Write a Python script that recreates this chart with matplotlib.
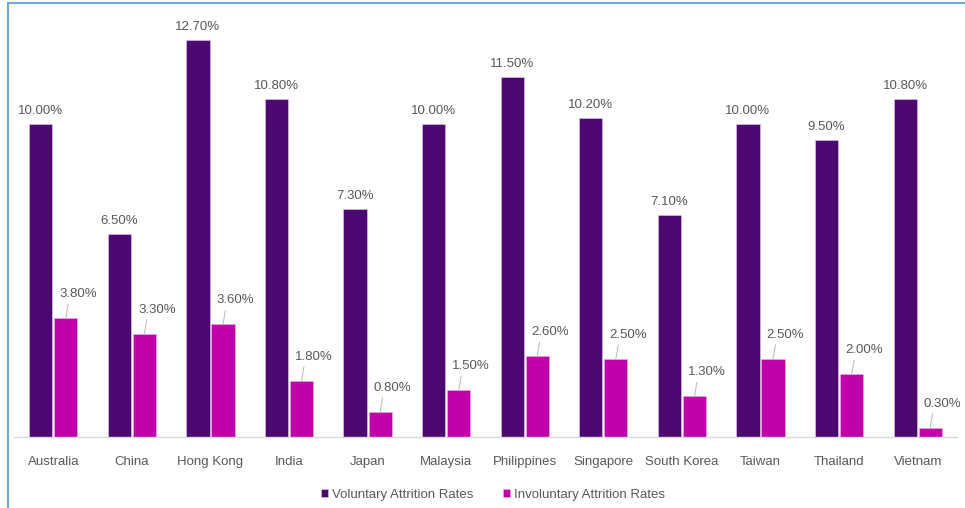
import matplotlib
matplotlib.use("Agg")
import matplotlib.pyplot as plt
from matplotlib.lines import Line2D
import numpy as np

countries = ["Australia", "China", "Hong Kong", "India", "Japan", "Malaysia",
             "Philippines", "Singapore", "South Korea", "Taiwan", "Thailand", "Vietnam"]
voluntary = [10.0, 6.5, 12.7, 10.8, 7.3, 10.0, 11.5, 10.2, 7.1, 10.0, 9.5, 10.8]
involuntary = [3.8, 3.3, 3.6, 1.8, 0.8, 1.5, 2.6, 2.5, 1.3, 2.5, 2.0, 0.3]
series_names = ["Voluntary Attrition Rates", "Involuntary Attrition Rates"]

plt.rcParams['font.family'] = ['Liberation Sans', 'DejaVu Sans']
TXT = '#595959'
C_VOL = '#4A0870'
C_INV = '#C000A8'

fig = plt.figure(figsize=(9.65, 5.08), dpi=100)
ax = fig.add_axes([0.0145, 0.1398, 0.9772, 0.8189])

x = np.arange(len(countries))
w = 0.295
b1 = ax.bar(x - w / 2 - 0.012, voluntary, w, color=C_VOL, edgecolor='#E8C8F0', linewidth=0.4,
            label=series_names[0])
b2 = ax.bar(x + w / 2 + 0.012, involuntary, w, color=C_INV, edgecolor='#F0B0E8', linewidth=0.4,
            label=series_names[1])

for rect, v in zip(b1, voluntary):
    ax.annotate(f"{v:.2f}%", (rect.get_x() + rect.get_width() / 2, v),
                xytext=(0, 5), textcoords='offset points', ha='center', va='bottom',
                fontsize=9.5, color=TXT)
for rect, v in zip(b2, involuntary):
    ax.annotate(f"{v:.2f}%", (rect.get_x() + rect.get_width() / 2, v),
                xytext=(9, 13), textcoords='offset points', ha='center', va='bottom',
                fontsize=9.5, color=TXT,
                arrowprops=dict(arrowstyle='-', color='#BFBFBF', lw=0.8,
                                shrinkA=1, shrinkB=0, relpos=(0.25, 0.0)))

ax.set_xlim(-0.5, len(countries) - 0.5)
ax.set_ylim(0, 13.3)
ax.set_xticks(x)
ax.set_xticklabels(countries, fontsize=9.5, color=TXT)
ax.tick_params(axis='x', length=0, pad=14)
ax.set_yticks([])
for s in ['top', 'right', 'left']:
    ax.spines[s].set_visible(False)
ax.spines['bottom'].set_color('#D9D9D9')
ax.spines['bottom'].set_linewidth(1.0)

leg = fig.legend(handles=[b1, b2], labels=series_names, loc='center',
                 bbox_to_anchor=(0.511, 0.026), ncol=2, frameon=False,
                 fontsize=9.5, handlelength=0.55, handleheight=0.55,
                 handletextpad=0.3, columnspacing=2.2)
for t in leg.get_texts():
    t.set_color(TXT)

# light blue frame (left and top edges)
fig.add_artist(Line2D([8 / 965, 8 / 965], [0, 1 - 3 / 508], transform=fig.transFigure,
                      color='#6FA8DC', lw=1.5))
fig.add_artist(Line2D([8 / 965, 1], [1 - 3 / 508, 1 - 3 / 508], transform=fig.transFigure,
                      color='#6FA8DC', lw=1.5))

fig.savefig("out.png", dpi=100)
